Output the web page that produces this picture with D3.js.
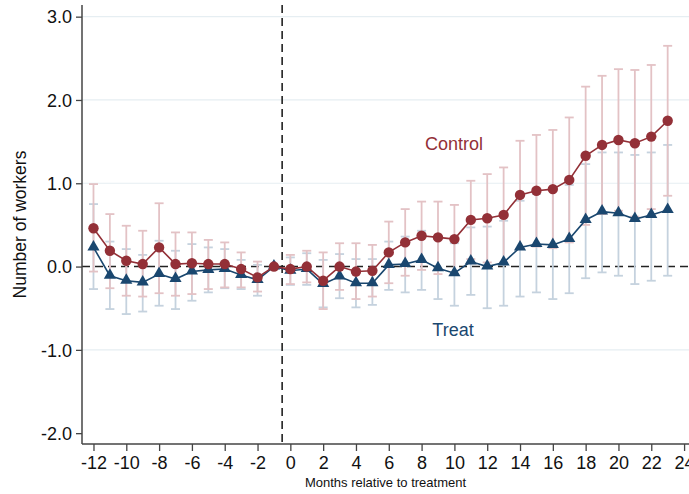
<!DOCTYPE html>
<html>
<head>
<meta charset="utf-8">
<script src="https://cdn.jsdelivr.net/npm/d3@7"></script>
<style>
  html, body { margin: 0; padding: 0; background: #fff; }
  svg { display: block; font-family: "Liberation Sans", Arial, Helvetica, sans-serif; }
</style>
</head>
<body>
<svg id="chart" width="689" height="494"></svg>
<script>
// ---- Data ----
const months = [-12,-11,-10,-9,-8,-7,-6,-5,-4,-3,-2,-1,0,1,2,3,4,5,6,7,8,9,10,11,12,13,14,15,16,17,18,19,20,21,22,23];

const controlEst = [0.46,0.19,0.07,0.03,0.23,0.03,0.04,0.03,0.03,-0.03,-0.13,0,-0.03,0.00,-0.17,0.00,-0.06,-0.05,0.17,0.29,0.37,0.35,0.33,0.56,0.58,0.62,0.86,0.91,0.93,1.04,1.33,1.46,1.52,1.48,1.56,1.75];
const controlLo  = [-0.06,-0.26,-0.35,-0.36,-0.32,-0.35,-0.33,-0.27,-0.25,-0.25,-0.30,null,-0.21,-0.19,-0.51,-0.28,-0.39,-0.36,-0.20,-0.11,-0.04,-0.09,-0.09,0.09,0.05,0.05,0.21,0.24,0.22,0.29,0.50,0.63,0.67,0.60,0.69,0.85];
const controlHi  = [0.99,0.63,0.49,0.43,0.76,0.41,0.41,0.32,0.29,0.17,0.06,null,0.14,0.19,0.17,0.28,0.28,0.26,0.54,0.69,0.78,0.78,0.74,1.03,1.11,1.19,1.51,1.58,1.64,1.79,2.16,2.29,2.37,2.36,2.42,2.65];

const treatEst = [0.23,-0.11,-0.17,-0.19,-0.09,-0.15,-0.06,-0.04,-0.03,-0.10,-0.16,0,-0.05,-0.03,-0.21,-0.12,-0.20,-0.20,0.02,0.03,0.08,-0.02,-0.08,0.06,0.00,0.05,0.23,0.27,0.26,0.33,0.56,0.66,0.64,0.57,0.62,0.68];
const treatLo  = [-0.27,-0.51,-0.57,-0.54,-0.47,-0.51,-0.41,-0.31,-0.26,-0.27,-0.35,null,-0.22,-0.22,-0.49,-0.38,-0.49,-0.46,-0.28,-0.31,-0.28,-0.39,-0.47,-0.34,-0.50,-0.47,-0.36,-0.31,-0.39,-0.32,-0.14,-0.07,-0.11,-0.21,-0.17,-0.11];
const treatHi  = [0.75,0.30,0.21,0.14,0.31,0.19,0.27,0.23,0.21,0.08,0.02,null,0.11,0.16,0.08,0.15,0.09,0.09,0.30,0.36,0.43,0.35,0.28,0.47,0.48,0.55,0.79,0.87,0.91,0.98,1.23,1.37,1.37,1.34,1.37,1.46];

const yTicks = [-2, -1, 0, 1, 2, 3];
const xTicks = [-12,-10,-8,-6,-4,-2,0,2,4,6,8,10,12,14,16,18,20,22,24];
const seriesLabels = ["Control", "Treat"];
const xTitle = "Months relative to treatment";
const yTitle = "Number of workers";

// ---- Layout ----
const svg = d3.select("#chart");
const pL = 82, pR = 689, pT = 5, pB = 444;

const x = d3.scaleLinear().domain([-12.7, 24.3]).range([pL, pR]);
const y = d3.scaleLinear().domain([-2.13, 3.14]).range([pB, pT]);

const colControl = "#933037";
const colTreat = "#1a476f";
const ciControl = "#e3c2c5";
const ciTreat = "#c5d2de";
const axisCol = "#444";

// gridlines
svg.append("g").selectAll("line")
  .data(yTicks.filter(v => v !== 0 && v !== -2))
  .join("line")
  .attr("x1", pL).attr("x2", pR)
  .attr("y1", d => y(d)).attr("y2", d => y(d))
  .attr("stroke", "#e6eef2").attr("stroke-width", 1.2);

// dashed reference lines
svg.append("line")
  .attr("x1", pL).attr("x2", pR)
  .attr("y1", y(0)).attr("y2", y(0))
  .attr("stroke", "#222").attr("stroke-width", 1.6)
  .attr("stroke-dasharray", "8,5");
svg.append("line")
  .attr("x1", x(-0.5)).attr("x2", x(-0.5))
  .attr("y1", pT).attr("y2", pB)
  .attr("stroke", "#222").attr("stroke-width", 1.6)
  .attr("stroke-dasharray", "8,5");

function rows(est, lo, hi) {
  return months.map((m, i) => ({ m, v: est[i], lo: lo[i], hi: hi[i] }));
}
const controlRows = rows(controlEst, controlLo, controlHi);
const treatRows = rows(treatEst, treatLo, treatHi);

function drawCI(data, color) {
  const g = svg.append("g").attr("stroke", color).attr("stroke-width", 1.8).attr("fill", "none");
  const d = data.filter(r => r.lo !== null);
  const cap = 4.5;
  g.selectAll("line.v").data(d).join("line").attr("class", "v")
    .attr("x1", r => x(r.m)).attr("x2", r => x(r.m))
    .attr("y1", r => y(r.lo)).attr("y2", r => y(r.hi));
  g.selectAll("line.t").data(d).join("line").attr("class", "t")
    .attr("x1", r => x(r.m) - cap).attr("x2", r => x(r.m) + cap)
    .attr("y1", r => y(r.hi)).attr("y2", r => y(r.hi));
  g.selectAll("line.b").data(d).join("line").attr("class", "b")
    .attr("x1", r => x(r.m) - cap).attr("x2", r => x(r.m) + cap)
    .attr("y1", r => y(r.lo)).attr("y2", r => y(r.lo));
}
drawCI(treatRows, ciTreat);
drawCI(controlRows, ciControl);

const line = d3.line().x(r => x(r.m)).y(r => y(r.v));

// treat line + triangles
svg.append("path").datum(treatRows)
  .attr("d", line).attr("fill", "none").attr("stroke", colTreat).attr("stroke-width", 1.6);
svg.append("g").selectAll("path").data(treatRows).join("path")
  .attr("d", d3.symbol().type(d3.symbolTriangle).size(64))
  .attr("transform", r => `translate(${x(r.m)},${y(r.v) - 0.5})`)
  .attr("fill", colTreat);

// control line + circles
svg.append("path").datum(controlRows)
  .attr("d", line).attr("fill", "none").attr("stroke", colControl).attr("stroke-width", 1.6);
svg.append("g").selectAll("circle").data(controlRows).join("circle")
  .attr("cx", r => x(r.m)).attr("cy", r => y(r.v)).attr("r", 5.2)
  .attr("fill", colControl);

// axes (ASCII hyphen for minus, as in the reference)
const hy = f => v => f(v).replace("\u2212", "-");
const yAxis = d3.axisLeft(y).tickValues(yTicks).tickFormat(hy(d3.format(".1f"))).tickSize(6).tickPadding(4);
const gy = svg.append("g").attr("transform", `translate(${pL},0)`).call(yAxis);
gy.select(".domain").attr("d", `M0,${pT}V${pB}`);
const xAxis = d3.axisBottom(x).tickValues(xTicks).tickFormat(hy(d3.format("d"))).tickSize(7).tickPadding(5);
const gx = svg.append("g").attr("transform", `translate(0,${pB})`).call(xAxis);
gx.select(".domain").attr("d", `M${pL},0H${pR}`);

[gx, gy].forEach(g => {
  g.select(".domain").attr("stroke", axisCol).attr("stroke-width", 1.5);
  g.selectAll(".tick line").attr("stroke", axisCol).attr("stroke-width", 1.3);
  g.selectAll(".tick text").attr("fill", "#111").attr("font-size", 18)
    .attr("font-family", "'Liberation Sans', Arial, sans-serif");
});
gx.selectAll(".tick text").attr("dy", "0.71em");
gy.selectAll(".tick text").attr("dy", "0.35em");

// titles
svg.append("text").attr("x", (pL + pR) / 2).attr("y", 487)
  .attr("text-anchor", "middle").attr("font-size", 13).attr("fill", "#111").text(xTitle);
svg.append("text").attr("transform", `translate(26,${(pT + pB) / 2}) rotate(-90)`)
  .attr("text-anchor", "middle").attr("font-size", 17.5).attr("fill", "#111").text(yTitle);

// series labels
svg.append("text").attr("x", 454).attr("y", 150).attr("text-anchor", "middle")
  .attr("font-size", 18).attr("fill", colControl).text(seriesLabels[0]);
svg.append("text").attr("x", 453).attr("y", 336).attr("text-anchor", "middle")
  .attr("font-size", 18).attr("fill", colTreat).text(seriesLabels[1]);
</script>
</body>
</html>
